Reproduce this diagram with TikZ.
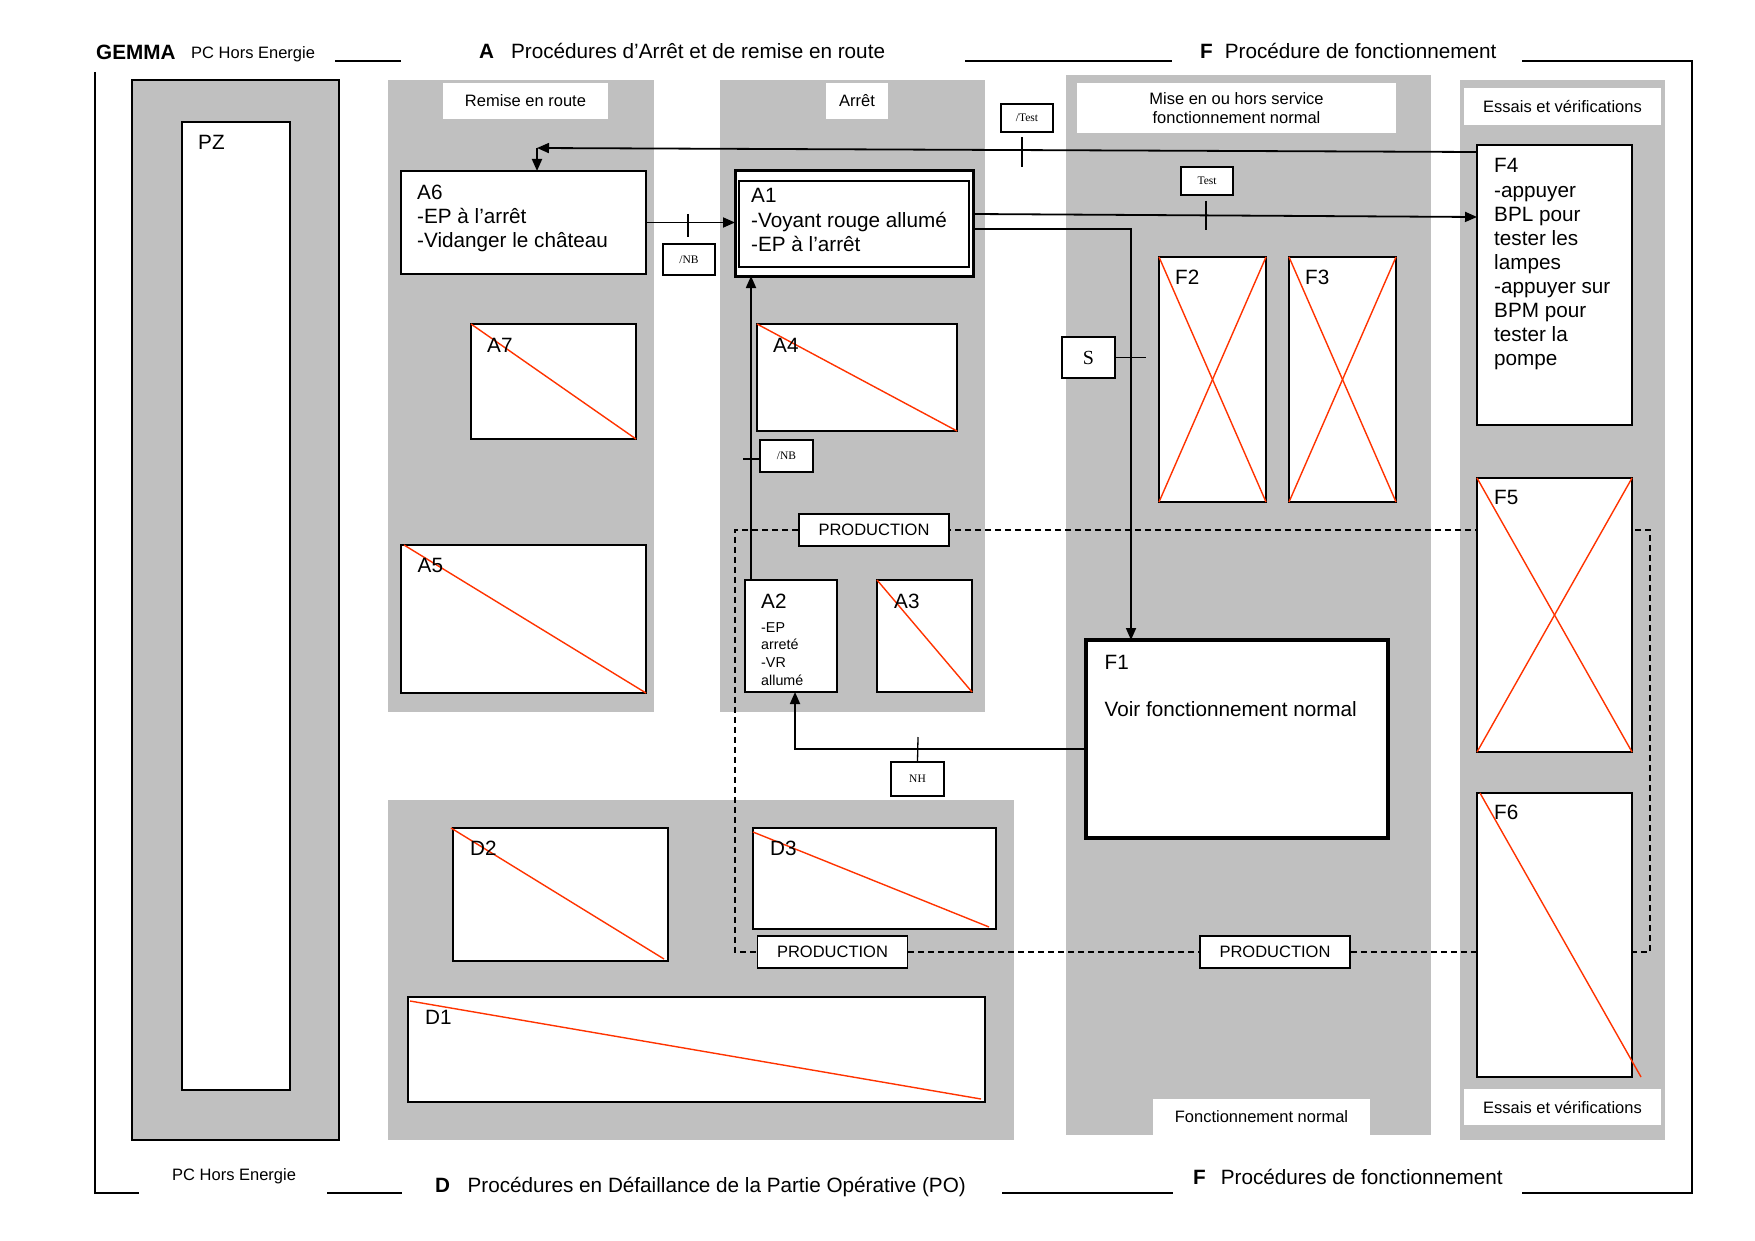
\documentclass[tikz,border=0pt]{standalone}
\usepackage{fontspec}
\setmainfont{Liberation Sans}
\newfontfamily\timesfont{Liberation Serif}
\usetikzlibrary{arrows.meta, positioning, calc}

\definecolor{fond}{RGB}{192,192,192}
\definecolor{rouge}{RGB}{255,51,0}

\newcommand{\txtgrand}{\fontsize{20.7}{24.1}\selectfont}
\newcommand{\txtmoyen}{\fontsize{16.5}{19}\selectfont}
\newcommand{\txtpetit}{\fontsize{14.3}{17.7}\selectfont}
\newcommand{\txtmini}{\timesfont\fontsize{11.5}{13}\selectfont}

\begin{document}
\begin{tikzpicture}[x=1pt, y=-1pt, every node/.style={font=\txtgrand},
    etape/.style={draw, fill=white, line width=1.5pt, anchor=north west, inner sep=0pt, outer sep=0pt},
    cartouche/.style={fill=white, inner sep=0pt, font=\txtmoyen, align=center},
    lbl/.style={anchor=north west, inner sep=0pt, align=left},
    titre/.style={anchor=base west, inner sep=0pt},
    recep/.style={draw, fill=white, line width=1.3pt, inner sep=0pt, font=\txtmini},
    prod/.style={draw, fill=white, line width=1.8pt, inner sep=0pt, minimum width=150pt, minimum height=32pt, font=\txtmoyen},
    pointille/.style={line width=1.8pt, dash pattern=on 6pt off 4pt},
    raye/.style={rouge, line width=1.4pt},
    lien/.style={line width=1.8pt},
    fleche/.style={line width=1.8pt, -{Triangle[length=12pt,width=10pt]}},
    barre/.style={line width=1.3pt},
    cadre/.style={line width=1.8pt}]
    \useasboundingbox (0,0) rectangle (1755,1241);

    % zones grises
    \draw[line width=1.5pt, fill=fond] (132,80) rectangle (339,1140);
    \fill[fond] (388,80) rectangle (654,712);
    \fill[fond] (720,80) rectangle (985,712);
    \fill[fond] (1066,75) rectangle (1431,1135);
    \fill[fond] (1460,80) rectangle (1665,1140);
    \fill[fond] (388,800) rectangle (1014,1140);

    % cadre et titres
    \draw[cadre] (95,72) -- (95,1193) -- (139,1193);
    \draw[cadre] (335,61) -- (401,61);
    \draw[cadre] (965,61) -- (1172,61);
    \draw[cadre] (1522,61) -- (1692,61) -- (1692,1193) -- (1522,1193);
    \draw[cadre] (327,1193) -- (402,1193);
    \draw[cadre] (1002,1193) -- (1173,1193);
    \node[titre, font=\bfseries\txtgrand] (gemma) at (96,59.5) {GEMMA};
    \node[titre, font=\txtmoyen] (pcHaut) at (191,59) {PC Hors Energie};
    \node[titre] (titreA) at (479,59) {\textbf{A}\hspace{17pt}Procédures d’Arrêt et de remise en route};
    \node[titre] (titreFh) at (1200,59) {\textbf{F}\hspace{12pt}Procédure de fonctionnement};
    \node[titre, font=\txtmoyen] (pcBas) at (172,1180) {PC Hors Energie};
    \node[titre] (titreD) at (435,1192) {\textbf{D}\hspace{17.5pt}Procédures en Défaillance de la Partie Opérative (PO)};
    \node[titre] (titreFb) at (1193,1184) {\textbf{F}\hspace{15pt}Procédures de fonctionnement};

    % cartouches
    \node[cartouche, minimum width=165pt, minimum height=36pt] (remise) at (525.5,101) {Remise en route};
    \node[cartouche, minimum width=62pt, minimum height=36pt] (arret) at (857,101) {Arrêt};
    \node[cartouche, minimum width=319pt, minimum height=50pt] (service) at (1236.5,108) {Mise en ou hors service\\fonctionnement normal};
    \node[cartouche, minimum width=197pt, minimum height=37pt] (essaisH) at (1562.5,106.5) {Essais et vérifications};
    \node[cartouche, minimum width=217pt, minimum height=36pt] (fnormal) at (1261.5,1117) {Fonctionnement normal};
    \node[cartouche, minimum width=197pt, minimum height=36pt] (essaisB) at (1562.5,1107) {Essais et vérifications};

    % boucle production
    \node[prod] (prod1) at (874,530) {PRODUCTION};
    \node[prod] (prod2) at (832.5,952) {PRODUCTION};
    \node[prod] (prod3) at (1275,952) {PRODUCTION};
    \draw[pointille] (prod1.west) -| (735,952) -- (prod2.west);
    \draw[pointille] (prod2.east) -- (prod3.west);
    \draw[pointille] (prod3.east) -| (1650,530) -- (prod1.east);

    % etapes
    \node[etape, minimum width=108pt, minimum height=968pt] (PZ) at (182,122) {};
    \node[etape, line width=2pt, minimum width=245pt, minimum height=103pt] (A6) at (401,171) {};
    \node[etape, line width=3pt, minimum width=238pt, minimum height=105pt] (A1) at (735,171) {};
    \node[etape, line width=1.2pt, minimum width=230pt, minimum height=86pt] (A1i) at (739,181) {};
    \node[etape, minimum width=165pt, minimum height=115pt] (A7) at (471,324) {};
    \node[etape, minimum width=200pt, minimum height=107pt] (A4) at (757,324) {};
    \node[etape, minimum width=245pt, minimum height=148pt] (A5) at (401,545) {};
    \node[etape, minimum width=92pt, minimum height=112pt] (A2) at (745,580) {};
    \node[etape, minimum width=95pt, minimum height=112pt] (A3) at (877,580) {};
    \node[etape, line width=4.5pt, minimum width=302pt, minimum height=198pt] (F1) at (1086,640) {};
    \node[etape, minimum width=107pt, minimum height=245pt] (F2) at (1159,257) {};
    \node[etape, minimum width=107pt, minimum height=245pt] (F3) at (1289,257) {};
    \node[etape, minimum width=155pt, minimum height=280pt] (F4) at (1477,145) {};
    \node[etape, minimum width=155pt, minimum height=274pt] (F5) at (1477,478) {};
    \node[etape, minimum width=155pt, minimum height=284pt] (F6) at (1477,793) {};
    \node[etape, minimum width=215pt, minimum height=133pt] (D2) at (453,828) {};
    \node[etape, minimum width=243pt, minimum height=101pt] (D3) at (753,828) {};
    \node[etape, minimum width=577pt, minimum height=105pt] (D1) at (408,997) {};

    % etats barres
    \draw[raye] (A7.north west) -- (A7.south east);
    \draw[raye] (A4.north west) -- (A4.south east);
    \draw[raye] ([xshift=3pt]A5.north west) -- (A5.south east);
    \draw[raye] (A3.north west) -- (A3.south east);
    \draw[raye] (F2.north west) -- (F2.south east);
    \draw[raye] (F2.south west) -- (F2.north east);
    \draw[raye] (F3.north west) -- (F3.south east);
    \draw[raye] (F3.south west) -- (F3.north east);
    \draw[raye] (F5.north west) -- (F5.south east);
    \draw[raye] (F5.south west) -- (F5.north east);
    \draw[raye] ([xshift=3pt]F6.north west) -- ([xshift=9pt]F6.south east);
    \draw[raye] ([xshift=-2pt]D2.north west) -- ([xshift=-4pt,yshift=2pt]D2.south east);
    \draw[raye] ([yshift=-4pt]D3.north west) -- ([xshift=-7pt,yshift=2pt]D3.south east);
    \draw[raye] ([xshift=2pt,yshift=-4pt]D1.north west) -- ([xshift=-4pt,yshift=3pt]D1.south east);

    % textes des etapes
    \node[lbl] (tPZ) at (198,135.5) {PZ};
    \node[lbl] (tA6) at (417,184.5) {A6\\-EP à l’arrêt\\-Vidanger le château};
    \node[lbl] (tA1) at (751,188.5) {A1\\-Voyant rouge allumé\\-EP à l’arrêt};
    \node[lbl] (tA7) at (487,338.5) {A7};
    \node[lbl] (tA4) at (773,338.5) {A4};
    \node[lbl] (tA5) at (417.5,558.5) {A5};
    \node[lbl] (tA2) at (761,593.5) {A2};
    \node[lbl, font=\txtpetit] (tA2b) at (761,622) {-EP\\arreté\\-VR\\allumé};
    \node[lbl] (tA3) at (894,593.5) {A3};
    \node[lbl] (tF1) at (1104.5,655) {F1\\[23pt]Voir fonctionnement normal};
    \node[lbl] (tF2) at (1175,269.5) {F2};
    \node[lbl] (tF3) at (1305,269.5) {F3};
    \node[lbl] (tF4) at (1494,158.5) {F4\\-appuyer\\BPL pour\\tester les\\lampes\\-appuyer sur\\BPM pour\\tester la\\pompe};
    \node[lbl] (tF5) at (1494,490.5) {F5};
    \node[lbl] (tF6) at (1494,804.5) {F6};
    \node[lbl] (tD2) at (470,840.5) {D2};
    \node[lbl] (tD3) at (770,840.5) {D3};
    \node[lbl] (tD1) at (425,1010.5) {D1};

    % receptivites
    \node[recep, minimum width=52pt, minimum height=28pt] (nTest) at (1027,118) {/Test};
    \node[recep, minimum width=52pt, minimum height=28pt] (rTest) at (1207,181) {Test};
    \node[recep, minimum width=52pt, minimum height=31pt] (nB1) at (689,259.5) {/NB};
    \node[recep, minimum width=53pt, minimum height=32pt] (nB2) at (786.5,456) {/NB};
    \node[recep, minimum width=53pt, minimum height=41pt, font=\timesfont\fontsize{20}{22}\selectfont] (rS) at (1088.5,357.5) {S};
    \node[recep, minimum width=53pt, minimum height=34pt] (rNH) at (917.5,779) {NH};

    % liaisons
    \coordinate (coinA6) at (537,148);
    \draw[fleche] ([yshift=-7pt]F4.north west) -- (coinA6);
    \draw[fleche] (coinA6) -- (coinA6 |- A6.north);
    \draw[fleche] (A6.east) -- (A6.east -| A1.west);
    \draw[fleche] ([xshift=6pt]A2.north west) -- ([xshift=6pt]A2.north west |- A1.south);
    \draw[fleche] ([yshift=9.5pt]A1.east) -- ([yshift=-72pt]F4.north west);
    \draw[fleche] ([yshift=-5.5pt]A1.east) -| ([xshift=-106pt]F1.north);
    \draw[fleche] ([yshift=-10pt]F1.west) -| ([xshift=4pt]A2.south);

    % traits de receptivite
    \draw[barre] (1022,137) -- (1022,167);
    \draw[barre] (688,214) -- (688,237);
    \draw[barre] (743,459) -- (759,459);
    \draw[barre] (1206,201) -- (1206,230);
    \draw[barre] (rS.east) -- ++(30,0);
    \draw[barre] (918,737) -- (rNH.north);
\end{tikzpicture}
\end{document}
